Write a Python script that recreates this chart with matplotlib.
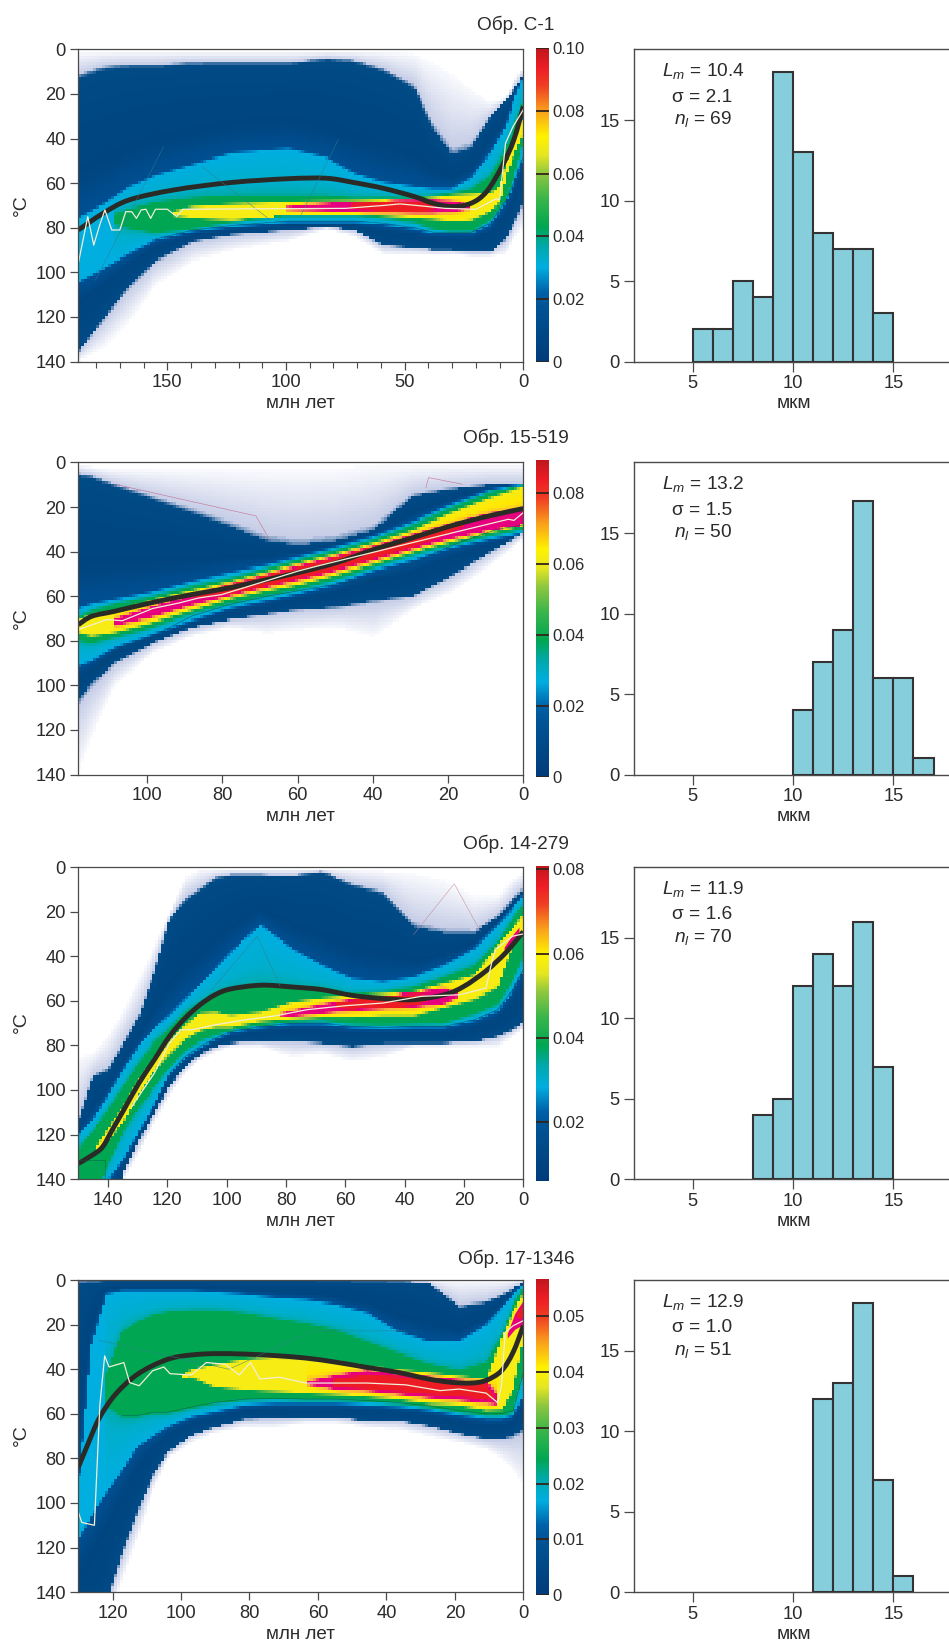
import numpy as np
import matplotlib
matplotlib.use('Agg')
import matplotlib.pyplot as plt
from matplotlib.colors import LinearSegmentedColormap, Normalize
from matplotlib.cm import ScalarMappable
from matplotlib.ticker import MultipleLocator
from matplotlib.path import Path
from matplotlib.patches import PathPatch

plt.rcParams['font.family'] = ['Liberation Sans', 'DejaVu Sans']
plt.rcParams['mathtext.fontset'] = 'custom'
plt.rcParams['mathtext.it'] = 'Liberation Sans:italic'
plt.rcParams['mathtext.rm'] = 'Liberation Sans'

titles = ['Обр. С-1', 'Обр. 15-519', 'Обр. 14-279', 'Обр. 17-1346']
age_max = [187.5, 118.3, 150, 130]
bar_range = [(0, 0.10), (0, 0.0893), (0.0059, 0.0808), (0, 0.0566)]
bar_ticks = [[0, .02, .04, .06, .08, .10], [0, .02, .04, .06, .08],
             [.02, .04, .06, .08], [0, .01, .02, .03, .04, .05]]
hist_stats = [('10.4', '2.1', '69'), ('13.2', '1.5', '50'), ('11.9', '1.6', '70'), ('12.9', '1.0', '51')]
hist_left = [[5, 6, 7, 8, 9, 10, 11, 12, 13, 14], [10, 11, 12, 13, 14, 15, 16],
             [8, 9, 10, 11, 12, 13, 14], [11, 12, 13, 14, 15]]
hist_count = [[2, 2, 5, 4, 18, 13, 8, 7, 7, 3], [4, 7, 9, 17, 6, 6, 1],
              [4, 5, 12, 14, 12, 16, 7], [12, 13, 18, 7, 1]]

# ---------- panel 1 ----------
a1 = [187.5, 177, 166, 155, 139, 123, 99, 83, 71, 59, 46, 38, 30, 22, 14, 7.5, 4, 0]
p1_pale_top = [1, 1, 1, 1, 1, 1, 1, 1, 1, 1, 2, 6, 11, 18, 24, 22, 14, 8]
p1_pale_bot = [140, 134, 122, 106, 95, 90, 86, 80.5, 84, 92, 92, 92, 92, 93, 93, 92, 85, 80]
p1_dark_top = [12, 8, 7, 7, 6, 6, 6, 4, 5, 9, 17, 35, 47, 44, 30, 23, 18, 12]
p1_dark_bot = [136, 121, 106, 95, 86, 83, 81, 79.5, 81, 88, 89, 90, 90, 91, 91, 85, 78, 69]
p1_cyan_top = [76, 70, 62, 57, 52, 47, 45, 49, 56, 60, 62, 63, 63, 58, 47, 35, 23, 13]
p1_cyan_bot = [104, 98, 91, 85, 81, 79, 77, 77, 77, 78, 80, 82, 82, 82, 78, 68, 60, 48]
a1_green = [172, 166, 155, 139, 123, 99, 83, 71, 59, 46, 38, 30, 22, 14, 7.5, 4, 0]
p1_green_top = [74, 72, 69, 67, 66, 66, 66, 67, 67, 67, 66, 65, 63, 57, 45, 35, 24]
p1_green_bot = [78, 80, 82, 80, 77, 74, 74, 74, 75, 77, 80, 81, 81, 76, 67, 57, 41]
a1_yel = [147, 139, 123, 99, 83, 71, 59, 46, 38, 30, 22, 14, 10, 7, 4, 0]
p1_yel_top = [73, 71, 70, 69, 68.7, 68.5, 68, 67.5, 67, 66, 65.5, 65, 62, 50, 40, 31]
p1_yel_bot = [74, 75, 76, 75, 74, 73.5, 74, 75, 75.5, 76.5, 76, 72, 68, 55, 47, 37.5]
a1_mag = [100, 83, 71, 59, 46, 38, 30, 22]
p1_mag_top = [71, 69.5, 68.5, 68, 68, 68, 68.5, 70.5]
p1_mag_bot = [71.5, 72, 72.3, 72.7, 73, 73, 72.5, 71]
a1_red = [73, 59, 46, 38]
p1_red_top = [69.8, 68.6, 68.2, 69]
p1_red_bot = [70.8, 72.2, 72.8, 71.5]
a1_thick = [187.5, 177, 166, 147, 123, 99, 83, 71.5, 59, 46, 38, 30, 22, 15.5, 9, 4, 0]
p1_thick = [81, 73.5, 67.5, 63, 59.7, 58, 57.8, 59.7, 62.3, 66, 69, 70.5, 69, 63.8, 52.5, 40.5, 25.5]
a1_white = [187.5, 183.5, 181, 178.7, 176.3, 173.4, 170, 167.5, 165, 163, 161, 159, 157, 155, 150,
            146, 143.5, 75, 59, 52, 43, 33, 20, 11.5, 10, 7.5, 4.3, 0]
p1_white = [96, 75, 87.8, 79.5, 72, 81, 81, 72.8, 72.8, 75.8, 72, 71.7, 75.8, 71.7, 71.7,
            75, 71.7, 71.3, 70, 69.3, 70.2, 71.3, 71.7, 67, 67.5, 42, 34.5, 27]
a1_ray1 = [180.3, 151.5]
p1_ray1 = [103.5, 43.5]
a1_ray2 = [135.5, 106.7]
p1_ray2 = [52.5, 76.5]
a1_ray3 = [94, 78]
p1_ray3 = [75, 40.5]

# ---------- panel 2 ----------
a2 = [118.3, 114.7, 108.7, 98.5, 88.3, 78.2, 68, 60, 49.7, 39.6, 29.4, 19.3, 9.1, 0]
p2_pale_top = [1, 2, 3, 3, 3, 3, 3, 3, 3, 1, 1, 1, 1, 1]
p2_pale_bot = [140, 123, 100, 85.5, 78, 74, 76.5, 75, 74, 78, 66, 58.5, 46.5, 34.5]
p2_dark_top = [5, 6, 10, 16, 22, 28, 35, 37, 35, 30, 15, 12, 10, 10]
p2_dark_bot = [107, 99, 90, 81, 74, 70.5, 68, 66, 65, 62, 60, 51, 40.5, 31.5]
p2_cyan_top = [66, 64, 62, 58.5, 54, 50, 46.5, 43, 38.5, 33.5, 27, 19.5, 13, 10]
p2_cyan_bot = [91, 88.6, 82.5, 76.5, 70.5, 65, 61.5, 58.5, 54, 48, 43.5, 38, 34, 31]
p2_green_top = [70, 67, 64, 60.7, 56, 52.5, 48, 44.3, 40, 35, 28.5, 21, 14, 10.3]
p2_green_bot = [79.5, 80.8, 78, 73.5, 67.5, 63, 59.3, 56.5, 52, 46.5, 41, 36.8, 32.3, 29.3]
p2_yel_top = [71, 69, 67.5, 62.3, 58, 54, 49.5, 45.8, 41.5, 36.5, 30.8, 23.3, 16.5, 11.3]
p2_yel_bot = [75.8, 77.3, 75.8, 71.3, 66, 60.8, 57, 54.5, 50, 45, 39.8, 35.3, 30.8, 27.8]
a2_mag = [108.7, 98.5, 88.3, 78.2, 68, 60, 49.7, 39.6, 29.4, 19.3, 9.1, 0]
p2_mag_top = [70.5, 65, 60, 55, 50.5, 46.8, 42.5, 37.8, 32.5, 27.8, 23.3, 21]
p2_mag_bot = [72.8, 69, 63.8, 59.5, 55.5, 52.5, 48.3, 43.5, 38.5, 33.8, 30, 28]
a2_red = [88, 78.2, 68, 60, 49.7, 39.6, 29.4, 22, 16]
p2_red_top = [58, 55, 50.5, 47.5, 43, 38, 32.8, 29, 27]
p2_red_bot = [60.5, 58.5, 55.5, 51.5, 47.5, 42.8, 37.5, 33, 28]
p2_thick = [72.8, 69, 66.8, 62.8, 59.3, 56.3, 52.5, 49.5, 45, 39, 33.8, 28.5, 24, 20.7]
a2_white = [118.3, 110.7, 106.6, 98.5, 91.4, 86.3, 80.2, 60, 54.8, 22.3, 4, 2.5, 0]
p2_white = [75, 70.5, 71, 65.5, 63, 60.8, 59.3, 48.8, 46.5, 33, 25.5, 26, 22.5]
a2_thin = [114.7, 106.6, 98.5, 88.3, 78.2, 68, 57.9, 47.8, 37.6, 27.4, 17.2, 7, 0]
p2_thin = [94.5, 82.5, 78, 69, 63.8, 60, 57, 54, 51.8, 43.5, 36, 30, 28]
a2_pink1 = [108.7, 71.1, 67.5]
p2_pink1 = [9.75, 24, 34.5]
a2_pink2 = [25.9, 25.2, 16.2]
p2_pink2 = [11.3, 6.8, 9.8]

# ---------- panel 3 ----------
a3 = [150, 145, 140, 134.7, 129.6, 124.4, 119.3, 114, 109, 103.9, 98.7, 88.4, 78, 67.9, 57.6,
      47.3, 37, 26.7, 16.5, 8.7, 3.6, 0]
p3_pale_top = [85, 83.5, 76, 64, 50, 36, 21, 5, 1, 1, 1, 1, 1, 1, 1, 2, 3, 6, 13, 13, 6, 3]
p3_pale_bot = [225, 200, 170, 140, 128, 115, 103, 92.5, 86.5, 83, 80.5, 80.5, 85, 83.5, 87, 85,
               80.5, 80.5, 80.5, 80.5, 76, 73]
p3_dark_top = [115, 94, 91, 79, 67, 47.5, 23.5, 14.5, 10, 5, 3.5, 3.5, 4, 2, 8, 11.5, 26.5, 29.5,
               29.5, 22, 14.5, 10]
p3_dark_bot = [220, 195, 165, 136, 122.5, 110.5, 98.5, 89.5, 84, 80.5, 79, 78.3, 78, 79, 80.5, 79,
               79, 79, 78.3, 76, 73, 70]
p3_cyan_top = [121, 113.5, 103, 91, 80.5, 73, 67, 59.5, 53.5, 46, 38.5, 26.5, 37, 44.5, 50.5, 52,
               49.8, 44.5, 37, 26.5, 19, 13]
p3_cyan_bot = [190, 165, 140, 130, 118, 106, 92.5, 85, 80.5, 76.8, 73.8, 71.5, 70, 70, 71.5, 72,
               71.5, 71.5, 68.5, 64, 55, 46]
p3_green_top = [127, 119, 109, 98.5, 88, 79, 73, 65.5, 61, 57.3, 55, 53, 54, 55, 57.3, 56.5, 54.3,
                49.8, 44.5, 34, 23.5, 17.5]
p3_green_bot = [175, 150, 133, 118, 107.5, 98.5, 89.5, 82, 77.5, 75, 73, 70.8, 69, 68.5, 70, 70.5,
                70, 69.7, 65.5, 61, 50.5, 40]
a3_yel = [143.7, 140, 134.7, 129.6, 124.4, 119.3, 114, 109, 103.9, 98.7, 88.4, 78, 67.9, 57.6,
          47.3, 37, 26.7, 16.5, 8.7, 3.6, 0]
p3_yel_top = [125.5, 118, 107.5, 95.5, 86.5, 79, 71.5, 66, 65.5, 67, 65.5, 61, 59.2, 58, 57.3,
              56.5, 52.8, 49, 35.5, 28, 22]
p3_yel_bot = [127, 122.5, 113.3, 101.5, 91, 83.5, 76.8, 73, 71.5, 71.5, 68.8, 67.8, 67, 67, 66.3,
              66.3, 62.5, 58.8, 53.5, 34, 28]
a3_mag = [82, 78, 67.9, 57.6, 47.3, 37, 26.7, 21.6]
p3_mag_top = [66, 64.8, 61.8, 59.5, 57.7, 56.5, 55, 57.3]
p3_mag_bot = [66.3, 66.7, 65.2, 64, 63.3, 62.5, 61, 57.6]
a3_red = [62.7, 57.6, 47.3, 37, 32]
p3_red_top = [60.8, 60, 58.2, 57.2, 57.8]
p3_red_bot = [62.8, 63.8, 63, 62, 59]
a3_spot = [6.5, 4, 1.5]
p3_spot_top = [36, 31, 27]
p3_spot_bot = [37, 35, 30]
a3_thick = [150, 145, 141.8, 138.6, 134.7, 129.6, 124.4, 119.3, 114, 109, 103.9, 98.7, 88.4, 78,
            67.9, 57.6, 47.3, 37, 26.7, 20, 12.5, 6, 0]
p3_thick = [133, 129, 125.5, 118, 109, 97, 86.5, 76, 67.8, 61.8, 57.3, 54.7, 53, 53.8, 55, 57.6,
            59, 59.5, 57.3, 53.5, 46.5, 38.5, 29]
a3_white = [132, 124.4, 119.3, 115.4, 111.6, 103.9, 93.6, 83.3, 73, 60, 47.3, 34.4, 21.6, 12.6,
            10.7, 9.4, 3.6, 0]
p3_white = [107.5, 92.5, 79, 73, 73, 70.8, 68.5, 66.7, 64, 62.2, 61, 58, 57.3, 54.3, 43, 37, 31, 30]
a3_pink = [37, 23.3, 14.5]
p3_pink = [30.3, 7.5, 28.8]
a3_box = [150, 141, 141]
p3_box = [131.5, 131.5, 140]
a3_tri = [105, 89.7, 82]
p3_tri = [55, 31, 53.5]

# ---------- panel 4 ----------
a4 = [130, 126.2, 121.8, 117.3, 112.8, 108.3, 103.8, 97, 90.4, 81.4, 72.5, 63.5, 54.6, 45.6, 36.7,
      27.7, 18.7, 10.9, 6.4, 3, 0]
p4_pale_top = [0] * 21
p4_pale_bot = [170, 165, 155, 135, 116, 95, 80, 73, 68.5, 66, 66, 64, 64, 66, 67, 70, 73, 76, 80, 85, 92]
p4_dark_top = [.5, .5, .5, .5, .5, .5, .5, .5, .5, .5, .5, .5, .5, .5, .5, 1, 12, 10, 7, 4, 1]
p4_dark_bot = [170, 160, 145, 123, 104, 88, 77.3, 69.8, 66, 62.3, 62, 61.6, 61.6, 63, 63, 65.3, 69,
               71.3, 71.3, 70, 67]
p4_cyan_top = [95, 30, 7, 5.5, 5.5, 5.5, 5.5, 5.5, 6, 7, 8.5, 9.3, 11.5, 15, 23.5, 28, 28, 20.5, 13, 7, 2.5]
p4_cyan_bot = [116, 105.7, 95, 84.8, 74.3, 69.8, 65.3, 60.8, 58.6, 55.6, 54.9, 54.9, 54.9, 55.6,
               56.4, 57.8, 60, 61.6, 61.6, 60, 51.9]
a4_green = a4[2:]
p4_green_top = [42, 23.5, 19, 16, 14.5, 13.8, 13.8, 15, 17.5, 19.7, 22.7, 28, 33, 37.7, 40.7, 37, 25, 11.5, 4]
p4_green_bot = [56, 60.8, 60.8, 59.3, 59.3, 57, 54.9, 53.4, 53, 53.4, 53.4, 54, 54.9, 56.4, 58.6, 60, 60, 58.6, 41.4]
a4_yel = [99.3, 97, 90.4, 81.4, 72.5, 63.5, 54.6, 45.6, 36.7, 27.7, 18.7, 10.9, 6.4, 3, 0]
p4_yel_top = [43, 40.7, 38.4, 36, 35, 35.4, 36.9, 39.2, 40.7, 42, 43.6, 45, 26.5, 14.5, 7]
p4_yel_bot = [43.5, 42.9, 47.4, 48.9, 49.6, 50.4, 51, 51.9, 53, 54.9, 55.6, 57.8, 57.5, 48.9, 26.5]
a4_mag = [63.5, 54.6, 45.6, 36.7, 27.7, 18.7, 10.9, 7.5]
p4_mag_top = [45.9, 42.9, 40.7, 42.2, 43.6, 45, 45.9, 51.9]
p4_mag_bot = [46.6, 48.9, 49.6, 51, 52.6, 53.7, 54.9, 55.6]
a4_red = [55.7, 45.6, 36.7, 27.7, 18.7, 10.9, 8.6]
p4_red_top = [45, 42.9, 43.6, 45, 46.6, 47.4, 53]
p4_red_bot = [47.4, 48.6, 49.6, 51, 51.9, 53.4, 53.4]
a4_spot = [4.7, 2.5, 0]
p4_spot_top = [24, 15, 9]
p4_spot_bot = [26, 22, 20]
a4_spot2 = [2, 0]
p4_spot2_top = [15, 11]
p4_spot2_bot = [17, 17]
a4_thick = [130, 127.3, 124, 119.5, 113.9, 108.3, 102.7, 97, 90.4, 81.4, 72.5, 63.5, 54.5, 45.6,
            36.6, 27.7, 20.9, 15.3, 10.9, 6.4, 3, 0]
p4_thick = [84, 74, 62.3, 51.9, 43.6, 38.4, 35, 33.6, 33, 33.2, 33.9, 35, 36.9, 39.2, 41.4, 44.4,
            45.9, 46.2, 45, 40.7, 32.4, 20.5]
a4_white = [130, 129, 125.3, 123.7, 122.3, 121, 116.7, 115, 112.2, 108.3, 105, 103.2, 97, 92.6, 87,
            83, 79.7, 77, 71.3, 63.5, 45.6, 34.4, 24.3, 18.7, 10.9, 7.5, 6.4, 5.3, 3, 0]
p4_white = [104, 108.7, 110, 56, 34, 39, 37, 46, 47.4, 40.7, 39, 42, 42.6, 37, 37.8, 42.6, 37, 44.4,
            43.6, 46.2, 46.2, 47, 49.6, 48.9, 50.7, 55, 47.4, 23.5, 20.5, 18.2]
a4_ray = [124, 86, 61.3, 34.4]
p4_ray = [27, 40, 22.8, 22.8]

# colour scales: fractions of the bar
bar_stops = [(0, '#003b7a'), (.18, '#005596'), (.22, '#0060a8'), (.30, '#00aee0'), (.37, '#00a8a8'),
             (.43, '#00a651'), (.52, '#39b54a'), (.60, '#8dc63f'), (.66, '#e6e621'), (.72, '#fff200'),
             (.80, '#f9a11b'), (.88, '#ef3e23'), (.94, '#ed1c24'), (1, '#c0161d')]
heat_stops = [(0, '#f9fafd'), (.05, '#c6cde6'), (.058, '#004a86'), (.17, '#00457f'), (.22, '#004f92'),
              (.26, '#0078be'), (.30, '#00aee0'), (.36, '#00aecb'), (.39, '#00a99d'), (.42, '#00a651'),
              (.56, '#00a651'), (.60, '#8dc63f'), (.64, '#f7ec13'), (.72, '#ffe800'), (.77, '#fbb040'),
              (.80, '#e6007e'), (.88, '#e6007e'), (.93, '#ed1c24'), (1, '#ed1c24')]
bar_cmap = LinearSegmentedColormap.from_list('bar', bar_stops, N=512)
heat_cmap = LinearSegmentedColormap.from_list('heat', heat_stops, N=1024)
heat_cmap.set_bad((1, 1, 1, 0))

EDGE = [0.0, .055, .30, .42, .64, .80, .93]
PLATEAU = [None, None, .22, .38, .56, .75, .88]
RAMP = 1.0
RAY = '#2f7f8f'

bands = [
    [(a1, p1_pale_top, p1_pale_bot), (a1, p1_dark_top, p1_dark_bot), (a1, p1_cyan_top, p1_cyan_bot),
     (a1_green, p1_green_top, p1_green_bot), (a1_yel, p1_yel_top, p1_yel_bot),
     (a1_mag, p1_mag_top, p1_mag_bot), (a1_red, p1_red_top, p1_red_bot)],
    [(a2, p2_pale_top, p2_pale_bot), (a2, p2_dark_top, p2_dark_bot), (a2, p2_cyan_top, p2_cyan_bot),
     (a2, p2_green_top, p2_green_bot), (a2, p2_yel_top, p2_yel_bot),
     (a2_mag, p2_mag_top, p2_mag_bot), (a2_red, p2_red_top, p2_red_bot)],
    [(a3, p3_pale_top, p3_pale_bot), (a3, p3_dark_top, p3_dark_bot), (a3, p3_cyan_top, p3_cyan_bot),
     (a3, p3_green_top, p3_green_bot), (a3_yel, p3_yel_top, p3_yel_bot),
     (a3_mag, p3_mag_top, p3_mag_bot), (a3_red, p3_red_top, p3_red_bot)],
    [(a4, p4_pale_top, p4_pale_bot), (a4, p4_dark_top, p4_dark_bot), (a4, p4_cyan_top, p4_cyan_bot),
     (a4_green, p4_green_top, p4_green_bot), (a4_yel, p4_yel_top, p4_yel_bot),
     (a4_mag, p4_mag_top, p4_mag_bot), (a4_red, p4_red_top, p4_red_bot)],
]
thick_lines = [(a1_thick, p1_thick), (a2, p2_thick), (a3_thick, p3_thick), (a4_thick, p4_thick)]
white_lines = [(a1_white, p1_white), (a2_white, p2_white), (a3_white, p3_white), (a4_white, p4_white)]
thin_lines = [
    [(a1[3:], p1_cyan_bot[3:], '#0b4a5a'), (a1_ray1, p1_ray1, RAY), (a1_ray2, p1_ray2, RAY),
     (a1_ray3, p1_ray3, RAY)],
    [(a2_thin, p2_thin, '#0b4a5a'), (a2_pink1, p2_pink1, '#c2557f'), (a2_pink2, p2_pink2, '#c2557f')],
    [(a3[6:], p3_cyan_bot[6:], '#0b4a5a'), (a3_pink, p3_pink, '#c27f8f'), (a3_box, p3_box, '#0b5a3a'),
     (a3_tri, p3_tri, RAY)],
    [(a4[3:], p4_green_bot[1:], '#0b5a3a'), (a4_ray, p4_ray, RAY)],
]
spots = [[], [], [(a3_spot, p3_spot_top, p3_spot_bot, '#e6007e')],
         [(a4_spot, p4_spot_top, p4_spot_bot, '#e6007e'), (a4_spot2, p4_spot2_top, p4_spot2_bot, '#ed1c24')]]


def density_column(age, layers, rows):
    top_x, top_v, bot_x, bot_v = [], [], [], []
    prev_t, prev_b = -1e3, 1e3
    for k, (ag, tp, bt) in enumerate(layers):
        ag = np.asarray(ag, float)
        if age < ag.min() or age > ag.max():
            continue
        o = np.argsort(ag)
        t = max(float(np.interp(age, ag[o], np.asarray(tp, float)[o])), prev_t)
        b = min(float(np.interp(age, ag[o], np.asarray(bt, float)[o])), prev_b)
        if b < t:
            t = b = 0.5 * (t + b)
        if PLATEAU[k] is not None:
            top_x.append(max(t - RAMP, prev_t)); top_v.append(PLATEAU[k])
            bot_x.append(min(b + RAMP, prev_b)); bot_v.append(PLATEAU[k])
        top_x.append(t); top_v.append(EDGE[k])
        bot_x.append(b); bot_v.append(EDGE[k])
        prev_t, prev_b = t, b
    xs = np.array(top_x + bot_x[::-1])
    vs = np.array(top_v + bot_v[::-1])
    xs = np.maximum.accumulate(xs) + np.arange(xs.size) * 1e-6
    return np.interp(rows, xs, vs, left=np.nan, right=np.nan)


def smooth_curve(xv, yv):
    """Bezier path running through the read points."""
    P = np.column_stack([xv, yv]).astype(float)
    verts = [P[0]]
    codes = [Path.MOVETO]
    for j in range(len(P) - 1):
        p0 = P[max(j - 1, 0)]
        p3 = P[min(j + 2, len(P) - 1)]
        verts += [P[j] + (P[j + 1] - p0) / 6, P[j + 1] - (p3 - P[j]) / 6, P[j + 1]]
        codes += [Path.CURVE4] * 3
    return Path(verts, codes)


W, H = 949, 1648
S = 949 / 903
fig = plt.figure(figsize=(W / 100, H / 100), dpi=100, facecolor='white')


def box(x0, y0, x1, y1):
    return [x0 * S / W, 1 - y1 * S / H, (x1 - x0) * S / W, (y1 - y0) * S / H]


def ftext(x, y, s, **kw):
    fig.text(x * S / W, 1 - y * S / H, s, ha='center', va='center', color='#2b2b2b', **kw)


tops = [47, 440, 825, 1218]
bar_tops = [46, 438, 824, 1217]
bar_bots = [344, 739, 1124, 1518]
title_xy = [(491, 24), (491, 417), (491, 803), (491, 1198)]
minor_step = [10, None, None, None]
major_step = [50, 20, 20, 20]
GREY = '#4a4a4a'
FS = 13.2

for i in range(4):
    y0, y1 = tops[i], tops[i] + 297
    ax = fig.add_axes(box(74.5, y0, 498, y1))
    cols = np.linspace(0, age_max[i], 151)
    rows = np.linspace(0, 140, 103)
    cc = 0.5 * (cols[1:] + cols[:-1])
    rc = 0.5 * (rows[1:] + rows[:-1])
    Z = np.array([density_column(a, bands[i], rc) for a in cc]).T
    ax.pcolormesh(cols, rows, np.ma.masked_invalid(Z), cmap=heat_cmap, vmin=0, vmax=1,
                  shading='flat', antialiased=False, linewidth=0)
    for ag, tp, bt, col in spots[i]:
        ax.fill_between(ag, tp, bt, color=col, lw=0)
    for ag, vals, col in thin_lines[i]:
        ax.plot(ag, vals, color=col, lw=0.4, alpha=0.8)
    ax.plot(*white_lines[i], color='#f2efd8', lw=0.9)
    ax.add_patch(PathPatch(smooth_curve(*thick_lines[i]), fill=False, edgecolor='#2a2a26',
                           lw=3.5, capstyle='butt'))
    ax.set_xlim(age_max[i], 0)
    ax.set_ylim(140, 0)
    ax.xaxis.set_major_locator(MultipleLocator(major_step[i]))
    if minor_step[i]:
        ax.xaxis.set_minor_locator(MultipleLocator(minor_step[i]))
    ax.yaxis.set_major_locator(MultipleLocator(20))
    ax.tick_params(axis='both', which='major', length=6, width=0.9, color=GREY, labelsize=FS,
                   labelcolor='#2b2b2b', pad=3)
    ax.tick_params(axis='x', which='minor', length=4, width=0.8, color=GREY)
    for sp in ax.spines.values():
        sp.set_color(GREY)
        sp.set_linewidth(0.9)
    ftext(title_xy[i][0], title_xy[i][1], titles[i], fontsize=13.7)
    ftext(286, y1 + 40, 'млн лет', fontsize=13.6)
    ftext(20, y0 + 148, '°C', fontsize=14, rotation=90)

    cax = fig.add_axes(box(510, bar_tops[i], 522, bar_bots[i]))
    sm = ScalarMappable(norm=Normalize(*bar_range[i]), cmap=bar_cmap)
    cb = fig.colorbar(sm, cax=cax, ticks=bar_ticks[i])
    cb.outline.set_visible(False)
    cb.ax.set_yticklabels(['0' if v == 0 else f'{v:.2f}' for v in bar_ticks[i]])
    cb.ax.tick_params(length=0, labelsize=12, labelcolor='#2b2b2b', pad=3)
    for v in bar_ticks[i]:
        cax.axhline(v, color='#33251c', lw=1.3)

    hax = fig.add_axes(box(603, y0, 903, y1))
    hax.bar(hist_left[i], hist_count[i], width=1, align='edge', color='#87cedd',
            edgecolor='#333333', linewidth=1.5, zorder=3)
    hax.set_xlim(2.07, 17.77)
    hax.set_ylim(0, 19.4)
    hax.set_xticks([5, 10, 15])
    hax.set_yticks([0, 5, 10, 15])
    hax.tick_params(length=7, width=0.9, color=GREY, labelsize=FS, labelcolor='#2b2b2b', pad=3)
    hax.spines['right'].set_visible(False)
    for k in ('left', 'top', 'bottom'):
        hax.spines[k].set_color(GREY)
        hax.spines[k].set_linewidth(1.0)
    lm, sg, nl = hist_stats[i]
    ftext(669, y0 + 21, rf'$L_m$ = {lm}', fontsize=13.8)
    ftext(668, y0 + 45.6, f'σ = {sg}', fontsize=13.8)
    ftext(669, y0 + 66.5, rf'$n_l$ = {nl}', fontsize=13.8)
    ftext(755, y1 + 40, 'мкм', fontsize=13.7)

fig.savefig('out.png', dpi=100)
